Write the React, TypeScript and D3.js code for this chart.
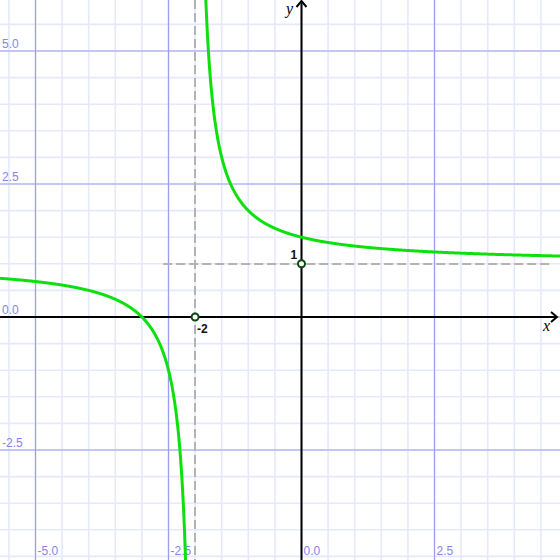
import { useEffect, useRef } from 'react';
import * as d3 from 'd3';

// y = k + a / (x - h)
const curveParams = { a: 1, h: -2, k: 1 };
const xTicks = [-5, -2.5, 0, 2.5];
const xTickLabels = ['-5.0', '-2.5', '0.0', '2.5'];
const yTicks = [5, 2.5, 0, -2.5];
const yTickLabels = ['5.0', '2.5', '0.0', '-2.5'];
const vAsymptotes = [-2];
const hAsymptotes = [1];
const markedX = [-2, 0];
const markedY = [0, 1];
const markedLabels = ['-2', '1'];

const App = () => {
  const svgRef = useRef<SVGSVGElement>(null);

  useEffect(() => {
    const width = 560;
    const height = 560;
    const unit = 53.2;
    const ox = 301.5;
    const oy = 317;

    const svg = d3.select(svgRef.current);
    svg.selectAll('*').remove();
    svg.attr('width', width).attr('height', height);

    const x = d3.scaleLinear().domain([-ox / unit, (width - ox) / unit]).range([0, width]);
    const y = d3.scaleLinear().domain([-(height - oy) / unit, oy / unit]).range([height, 0]);

    svg.append('rect').attr('width', width).attr('height', height).attr('fill', '#fff');

    // Minor grid
    const minorX = d3.range(Math.ceil(x.domain()[0] * 2) / 2, x.domain()[1], 0.5);
    const minorY = d3.range(Math.ceil(y.domain()[0] * 2) / 2, y.domain()[1], 0.5);
    const grid = svg.append('g');
    grid.selectAll('.mx').data(minorX).join('line')
      .attr('x1', d => x(d)).attr('x2', d => x(d)).attr('y1', 0).attr('y2', height)
      .attr('stroke', '#e6e9fc').attr('stroke-width', 1.6);
    grid.selectAll('.my').data(minorY).join('line')
      .attr('y1', d => y(d)).attr('y2', d => y(d)).attr('x1', 0).attr('x2', width)
      .attr('stroke', '#e6e9fc').attr('stroke-width', 1.6);

    // Major grid
    const majorX = d3.range(-5, 5, 2.5);
    const majorY = d3.range(-2.5, 6, 2.5);
    grid.selectAll('.Mx').data(majorX).join('line')
      .attr('x1', d => x(d)).attr('x2', d => x(d)).attr('y1', 0).attr('y2', height)
      .attr('stroke', '#9d9df0').attr('stroke-width', 1.2);
    grid.selectAll('.My').data(majorY).join('line')
      .attr('y1', d => y(d)).attr('y2', d => y(d)).attr('x1', 0).attr('x2', width)
      .attr('stroke', '#9d9df0').attr('stroke-width', 1.2);

    // Tick labels
    const tickFont = 'Liberation Sans, Arial, sans-serif';
    svg.append('g').selectAll('text').data(xTicks).join('text')
      .attr('x', d => x(d) + 2).attr('y', 555)
      .attr('font-family', tickFont).attr('font-size', 12).attr('fill', '#8585ea')
      .text((d, i) => xTickLabels[i]);
    svg.append('g').selectAll('text').data(yTicks).join('text')
      .attr('x', 2).attr('y', d => y(d) - 3)
      .attr('font-family', tickFont).attr('font-size', 12).attr('fill', '#8585ea')
      .text((d, i) => yTickLabels[i]);

    // Asymptotes (snapped to whole pixels so the dashes stay crisp)
    svg.append('g').selectAll('line').data(vAsymptotes).join('line')
      .attr('x1', d => Math.round(x(d))).attr('x2', d => Math.round(x(d))).attr('y1', 0).attr('y2', height)
      .attr('stroke', '#b3b3b3').attr('stroke-width', 2).attr('stroke-dasharray', '9,4');
    svg.append('g').selectAll('line').data(hAsymptotes).join('line')
      .attr('y1', d => Math.round(y(d))).attr('y2', d => Math.round(y(d))).attr('x1', x(-2.6)).attr('x2', 550)
      .attr('stroke', '#b3b3b3').attr('stroke-width', 2).attr('stroke-dasharray', '9,4');

    // Axes
    const axes = svg.append('g').attr('stroke', '#000').attr('stroke-width', 2).attr('fill', 'none');
    axes.append('line').attr('x1', 0).attr('x2', 557).attr('y1', y(0)).attr('y2', y(0));
    axes.append('line').attr('x1', x(0)).attr('x2', x(0)).attr('y1', 1).attr('y2', height);
    axes.append('path').attr('d', `M${551},${y(0) - 5}L${557},${y(0)}L${551},${y(0) + 5}`);
    axes.append('path').attr('d', `M${x(0) - 5},${7}L${x(0)},${1}L${x(0) + 5},${7}`);
    svg.append('text').attr('x', 543).attr('y', 331).attr('font-family', 'Liberation Serif, serif')
      .attr('font-style', 'italic').attr('font-size', 16).text('x');
    svg.append('text').attr('x', 286).attr('y', 14).attr('font-family', 'Liberation Serif, serif')
      .attr('font-style', 'italic').attr('font-size', 16).text('y');

    // Curve
    const f = (t: number) => curveParams.k + curveParams.a / (t - curveParams.h);
    const [x0, x1] = x.domain();
    const left = d3.range(x0, curveParams.h - 0.17, 0.01).map(t => [t, f(t)]);
    const right = d3.range(curveParams.h + 0.19, x1 + 0.01, 0.01).map(t => [t, f(t)]);
    const line = d3.line<number[]>().x(d => x(d[0])).y(d => y(d[1])).curve(d3.curveMonotoneX);
    svg.append('defs').append('clipPath').attr('id', 'clip')
      .append('rect').attr('width', width).attr('height', height);
    [left, right].forEach(seg => {
      svg.append('path').attr('d', line(seg)).attr('clip-path', 'url(#clip)')
        .attr('fill', 'none').attr('stroke', '#0ee00e').attr('stroke-width', 3);
    });

    // Marked points
    const pts = markedX.map((d, i) => ({ x: d, y: markedY[i], label: markedLabels[i] }));
    svg.append('g').selectAll('circle').data(pts).join('circle')
      .attr('cx', d => x(d.x)).attr('cy', d => y(d.y)).attr('r', 3.5)
      .attr('fill', '#fff').attr('stroke', '#0a4a0a').attr('stroke-width', 2);
    svg.append('g').selectAll('text').data(pts).join('text')
      .attr('x', d => d.y === 0 ? x(d.x) + 2 : x(d.x) - 11)
      .attr('y', d => d.y === 0 ? y(d.y) + 16 : y(d.y) - 5)
      .attr('font-family', tickFont).attr('font-size', 12).attr('font-weight', 'bold').attr('fill', '#111')
      .text(d => d.label);
  }, []);

  return <svg ref={svgRef} style={{ position: 'fixed', left: 0, top: 0 }} />;
};

export default App;
